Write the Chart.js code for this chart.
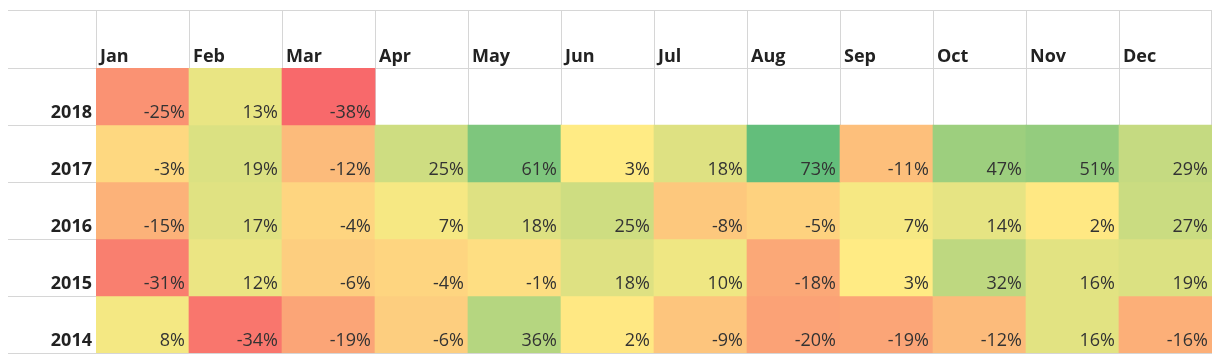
<!DOCTYPE html>
<html>
<head>
<meta charset="utf-8">
<script src="https://cdn.jsdelivr.net/npm/chart.js@4.4.0/dist/chart.umd.min.js"></script>
<style>
  html, body { margin: 0; padding: 0; background: #ffffff; }
  #wrap { width: 1220px; height: 358px; }
</style>
</head>
<body>
<div id="wrap"><canvas id="c" width="1220" height="358"></canvas></div>
<script>
const months = ['Jan','Feb','Mar','Apr','May','Jun','Jul','Aug','Sep','Oct','Nov','Dec'];
const years = ['2018','2017','2016','2015','2014'];
const r2018 = [-25, 13, -38, null, null, null, null, null, null, null, null, null];
const r2017 = [-3, 19, -12, 25, 61, 3, 18, 73, -11, 47, 51, 29];
const r2016 = [-15, 17, -4, 7, 18, 25, -8, -5, 7, 14, 2, 27];
const r2015 = [-31, 12, -6, -4, -1, 18, 10, -18, 3, 32, 16, 19];
const r2014 = [8, -34, -19, -6, 36, 2, -9, -20, -19, -12, 16, -16];
const rows = [r2018, r2017, r2016, r2015, r2014];

// Excel-style 3-colour scale: min red, 50th percentile yellow, max green
const all = rows.flat().filter(v => v !== null).sort((a, b) => a - b);
const vMin = all[0], vMax = all[all.length - 1];
const vMid = all[Math.floor(all.length / 2)];
const cRed = [248, 105, 107], cYel = [255, 235, 132], cGrn = [99, 190, 123];
function mix(a, b, t) { return a.map((x, i) => Math.round(x + (b[i] - x) * t)); }
function colorFor(v) {
  let c;
  if (v <= vMid) c = mix(cRed, cYel, (v - vMin) / (vMid - vMin));
  else c = mix(cYel, cGrn, (v - vMid) / (vMax - vMid));
  return 'rgb(' + c.join(',') + ')';
}

const datasets = rows.map((r, i) => ({
  label: years[i],
  data: r.map(v => v === null ? null : [i, i + 1]),
  values: r,
  backgroundColor: r.map(v => v === null ? 'rgba(0,0,0,0)' : colorFor(v)),
  borderWidth: 0,
  barPercentage: 1.0,
  categoryPercentage: 1.0,
  grouped: false
}));

const FONT = '"Open Sans", "Noto Sans", sans-serif';
const LABEL_COL = 88;   // width of the year label column
const HEADER_H = 58;    // height of the month header row

const tablePlugin = {
  id: 'tablePlugin',
  beforeDatasetsDraw(chart) {
    const { ctx, chartArea: ca, scales: { x, y } } = chart;
    const left = ca.left - LABEL_COL, top = ca.top - HEADER_H;
    ctx.save();
    ctx.strokeStyle = '#d6d6d6';
    ctx.lineWidth = 1;
    ctx.beginPath();
    // horizontal lines
    const hy = [top, ca.top];
    for (let i = 1; i <= years.length; i++) hy.push(y.getPixelForValue(i));
    hy.forEach(py => { const p = Math.round(py) + 0.5; ctx.moveTo(left, p); ctx.lineTo(ca.right, p); });
    // vertical lines at column boundaries
    for (let j = 0; j <= months.length; j++) {
      const px = j < months.length ? x.getPixelForValue(j) - x.width / months.length / 2 : ca.right;
      const p = Math.round(px) + 0.5 - (j === months.length ? 1 : 0);
      ctx.moveTo(p, top); ctx.lineTo(p, ca.bottom);
    }
    ctx.stroke();
    ctx.restore();
  },
  afterDatasetsDraw(chart) {
    const { ctx, chartArea: ca, scales: { x, y } } = chart;
    const colW = x.width / months.length;
    ctx.save();
    // month headers
    ctx.font = 'bold 18px ' + FONT;
    ctx.fillStyle = '#222222';
    ctx.textAlign = 'left';
    ctx.textBaseline = 'alphabetic';
    months.forEach((m, j) => {
      ctx.fillText(m, x.getPixelForValue(j) - colW / 2 + 4, ca.top - 6);
    });
    // year labels
    ctx.textAlign = 'right';
    years.forEach((yr, i) => {
      ctx.fillText(yr, ca.left - 4, y.getPixelForValue(i + 1) - 7);
    });
    // values
    ctx.font = '18px ' + FONT;
    ctx.fillStyle = '#333333';
    chart.data.datasets.forEach((ds, i) => {
      const meta = chart.getDatasetMeta(i);
      meta.data.forEach((bar, j) => {
        const v = ds.values[j];
        if (v === null) return;
        const p = bar.getProps(['x', 'y', 'base', 'width'], true);
        const right = p.x + p.width / 2 - 4;
        const bottom = Math.max(p.y, p.base) - 7;
        ctx.fillText(v + '%', right, bottom);
      });
    });
    ctx.restore();
  }
};

new Chart(document.getElementById('c'), {
  type: 'bar',
  data: { labels: months, datasets },
  options: {
    responsive: false,
    animation: false,
    layout: { padding: { left: 96, top: 68, right: 8, bottom: 5 } },
    plugins: { legend: { display: false }, tooltip: { enabled: false } },
    scales: {
      x: { type: 'category', display: false, offset: true },
      y: { type: 'linear', display: false, min: 0, max: 5, reverse: true }
    }
  },
  plugins: [tablePlugin]
});
</script>
</body>
</html>
